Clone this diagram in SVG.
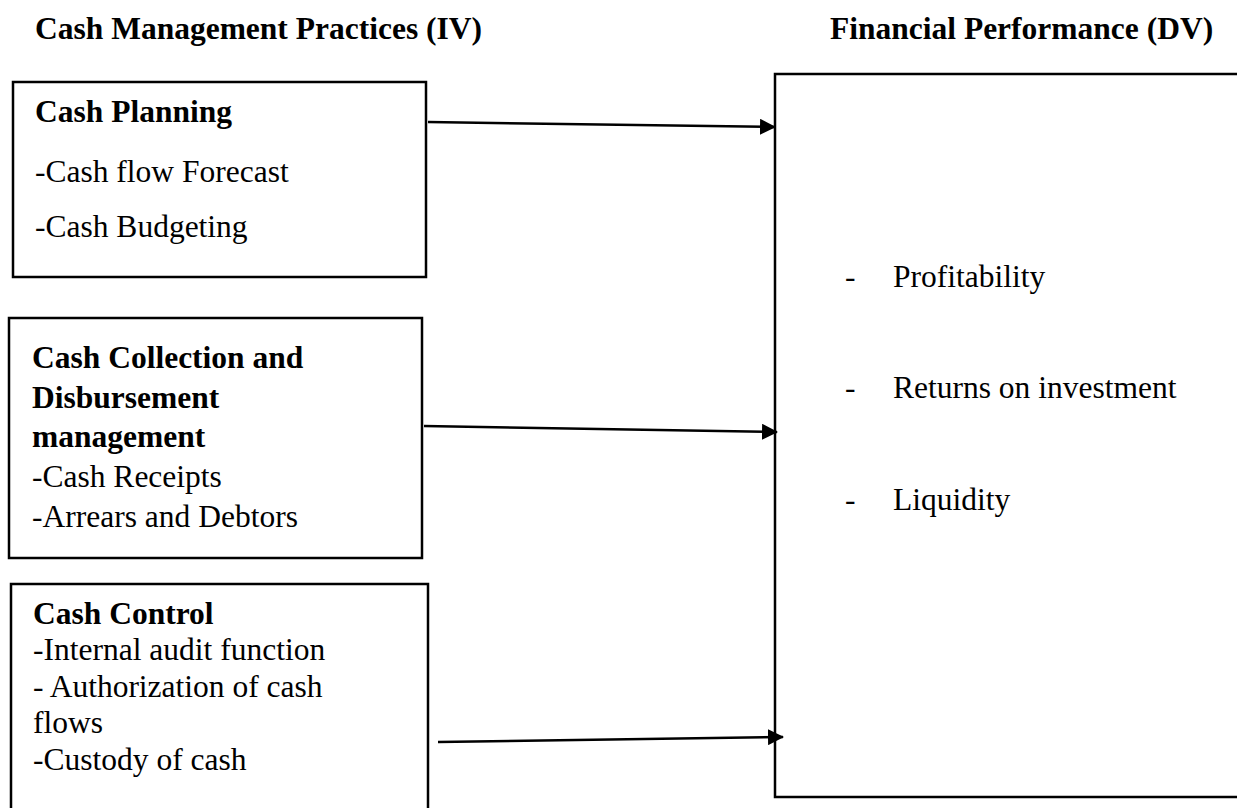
<svg xmlns="http://www.w3.org/2000/svg" width="1237" height="808" viewBox="0 0 1237 808">
  <style>
    .box { fill: #ffffff; stroke: #000000; stroke-width: 2.5; }
    .title { font-family: "Liberation Serif", "Times New Roman", serif; font-size: 31.5px; font-weight: bold; fill: #000; }
    .head { font-family: "Liberation Serif", "Times New Roman", serif; font-size: 31.5px; font-weight: bold; fill: #000; }
    .item { font-family: "Liberation Serif", "Times New Roman", serif; font-size: 31.5px; fill: #000; }
    .link { fill: none; stroke: #000000; stroke-width: 2.5; }
  </style>
  <defs>
    <marker id="arrow" markerUnits="userSpaceOnUse" markerWidth="16" markerHeight="16" refX="15" refY="8" orient="auto">
      <path d="M0,0 L16,8 L0,16 Z" fill="#000"/>
    </marker>
  </defs>
  <rect width="1237" height="808" fill="#ffffff"/>

  <!-- column headings -->
  <g id="headings">
    <text class="title" x="35" y="39">Cash Management Practices (IV)</text>
    <text class="title" x="830" y="39">Financial Performance (DV)</text>
  </g>

  <!-- independent variable: cash planning -->
  <g id="cash-planning">
    <rect class="box" x="13" y="82" width="413" height="195"/>
    <text class="head" x="35" y="122">Cash Planning</text>
    <text class="item" x="35" y="182">-Cash flow Forecast</text>
    <text class="item" x="35" y="237">-Cash Budgeting</text>
  </g>

  <!-- independent variable: collection and disbursement -->
  <g id="cash-collection">
    <rect class="box" x="9" y="318" width="413" height="240"/>
    <text class="head" x="32" y="368">Cash Collection and</text>
    <text class="head" x="32" y="408">Disbursement</text>
    <text class="head" x="32" y="447">management</text>
    <text class="item" x="32" y="487">-Cash Receipts</text>
    <text class="item" x="32" y="527">-Arrears and Debtors</text>
  </g>

  <!-- independent variable: cash control -->
  <g id="cash-control">
    <rect class="box" x="11" y="584" width="417" height="240"/>
    <text class="head" x="33" y="624">Cash Control</text>
    <text class="item" x="33" y="660">-Internal audit function</text>
    <text class="item" x="33" y="697">- Authorization of cash</text>
    <text class="item" x="33" y="733">flows</text>
    <text class="item" x="33" y="770">-Custody of cash</text>
  </g>

  <!-- dependent variable: financial performance -->
  <g id="financial-performance">
    <rect class="box" x="775" y="74" width="480" height="723"/>
    <text class="item" x="845" y="287">-</text>
    <text class="item" x="893" y="287">Profitability</text>
    <text class="item" x="845" y="398">-</text>
    <text class="item" x="893" y="398">Returns on investment</text>
    <text class="item" x="845" y="510">-</text>
    <text class="item" x="893" y="510">Liquidity</text>
  </g>

  <!-- connectors -->
  <g id="connectors">
    <line class="link" x1="428" y1="122" x2="775" y2="127" marker-end="url(#arrow)"/>
    <line class="link" x1="424" y1="426" x2="777" y2="432" marker-end="url(#arrow)"/>
    <line class="link" x1="438" y1="742" x2="783" y2="737" marker-end="url(#arrow)"/>
  </g>
</svg>
